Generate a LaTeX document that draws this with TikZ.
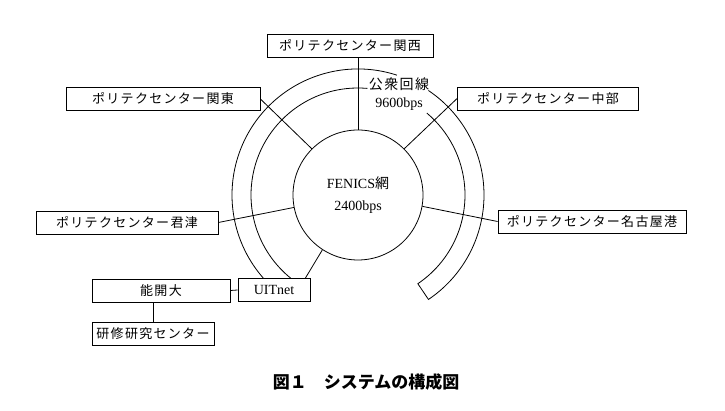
\documentclass[tikz,border=0pt]{standalone}
\usepackage{fontspec}
\setmainfont{Liberation Serif}
\newfontfamily\cjk[LetterSpace=10]{Noto Sans CJK JP}
\newfontfamily\cjkcap{Noto Sans CJK JP}
\usetikzlibrary{calc}

\begin{document}
\begin{tikzpicture}[x=1pt,y=1pt,
    box/.style={draw, line width=0.8pt, minimum height=23pt, inner sep=0pt,
      font=\fontsize{13}{15}\selectfont\cjk},
    link/.style={line width=0.8pt}]
  \useasboundingbox (0,0) rectangle (725,411);

  % central network
  \node[circle, draw, line width=0.8pt, minimum size=130pt, inner sep=0pt, align=center,
    font=\fontsize{14}{22}\selectfont] (fenics) at (358,216) {FENICS{\cjk 網}\\2400bps};

  % the centres
  \node[box, minimum width=166pt] (kansai)  at (350,365)   {ポリテクセンター関西};
  \node[box, minimum width=194pt] (kanto)   at (163,312)   {ポリテクセンター関東};
  \node[box, minimum width=181pt] (chubu)   at (548,312.5) {ポリテクセンター中部};
  \node[box, minimum width=188pt] (nagoya)  at (592,189.5) {ポリテクセンター名古屋港};
  \node[box, minimum width=182pt] (kimitsu) at (127,188.5) {ポリテクセンター君津};
  \node[box, minimum width=72pt, font=\fontsize{14}{16}\selectfont] (uit) at (274,121) {UITnet};
  \node[box, minimum width=138pt] (nokai)   at (161,120.5) {能開大};
  \node[box, minimum width=122pt] (kenshu)  at (153,77)    {研修研究センター};

  % public line
  \node[align=center, inner sep=0pt, font=\fontsize{14}{18}\selectfont] (pub) at (399,317)
    {{\cjk 公衆回線}\\9600bps};
  \draw[link] ($(fenics.center)+(72:126)$) arc[start angle=72, end angle=221.2, radius=126];
  \draw[link] ($(fenics.center)+(85:107)$) arc[start angle=85, end angle=230.9, radius=107];
  \draw[link] ($(fenics.center)+(56:126)$) arc[start angle=56, end angle=-56, radius=126]
    -- ($(fenics.center)+(-56:107)$) arc[start angle=-56, end angle=50, radius=107];

  % connections
  \draw[link] (fenics.north) -- (fenics.north |- kansai.south);
  \draw[link] (kanto.east) -- (fenics.135);
  \draw[link] (chubu.west) -- (fenics.45);
  \draw[link] (nagoya.west) -- (fenics.-10);
  \draw[link] (kimitsu.east) -- (fenics.191);
  \draw[link] (fenics.237) -- ([xshift=-5pt]uit.north east);
  \draw[link] (nokai.east) -- (uit.west);
  \draw[link] (kenshu.north) -- (kenshu.north |- nokai.south);

  \node[font=\fontsize{17}{19}\selectfont\cjkcap\bfseries] (caption) at (366,29)
    {図１　システムの構成図};
\end{tikzpicture}
\end{document}
